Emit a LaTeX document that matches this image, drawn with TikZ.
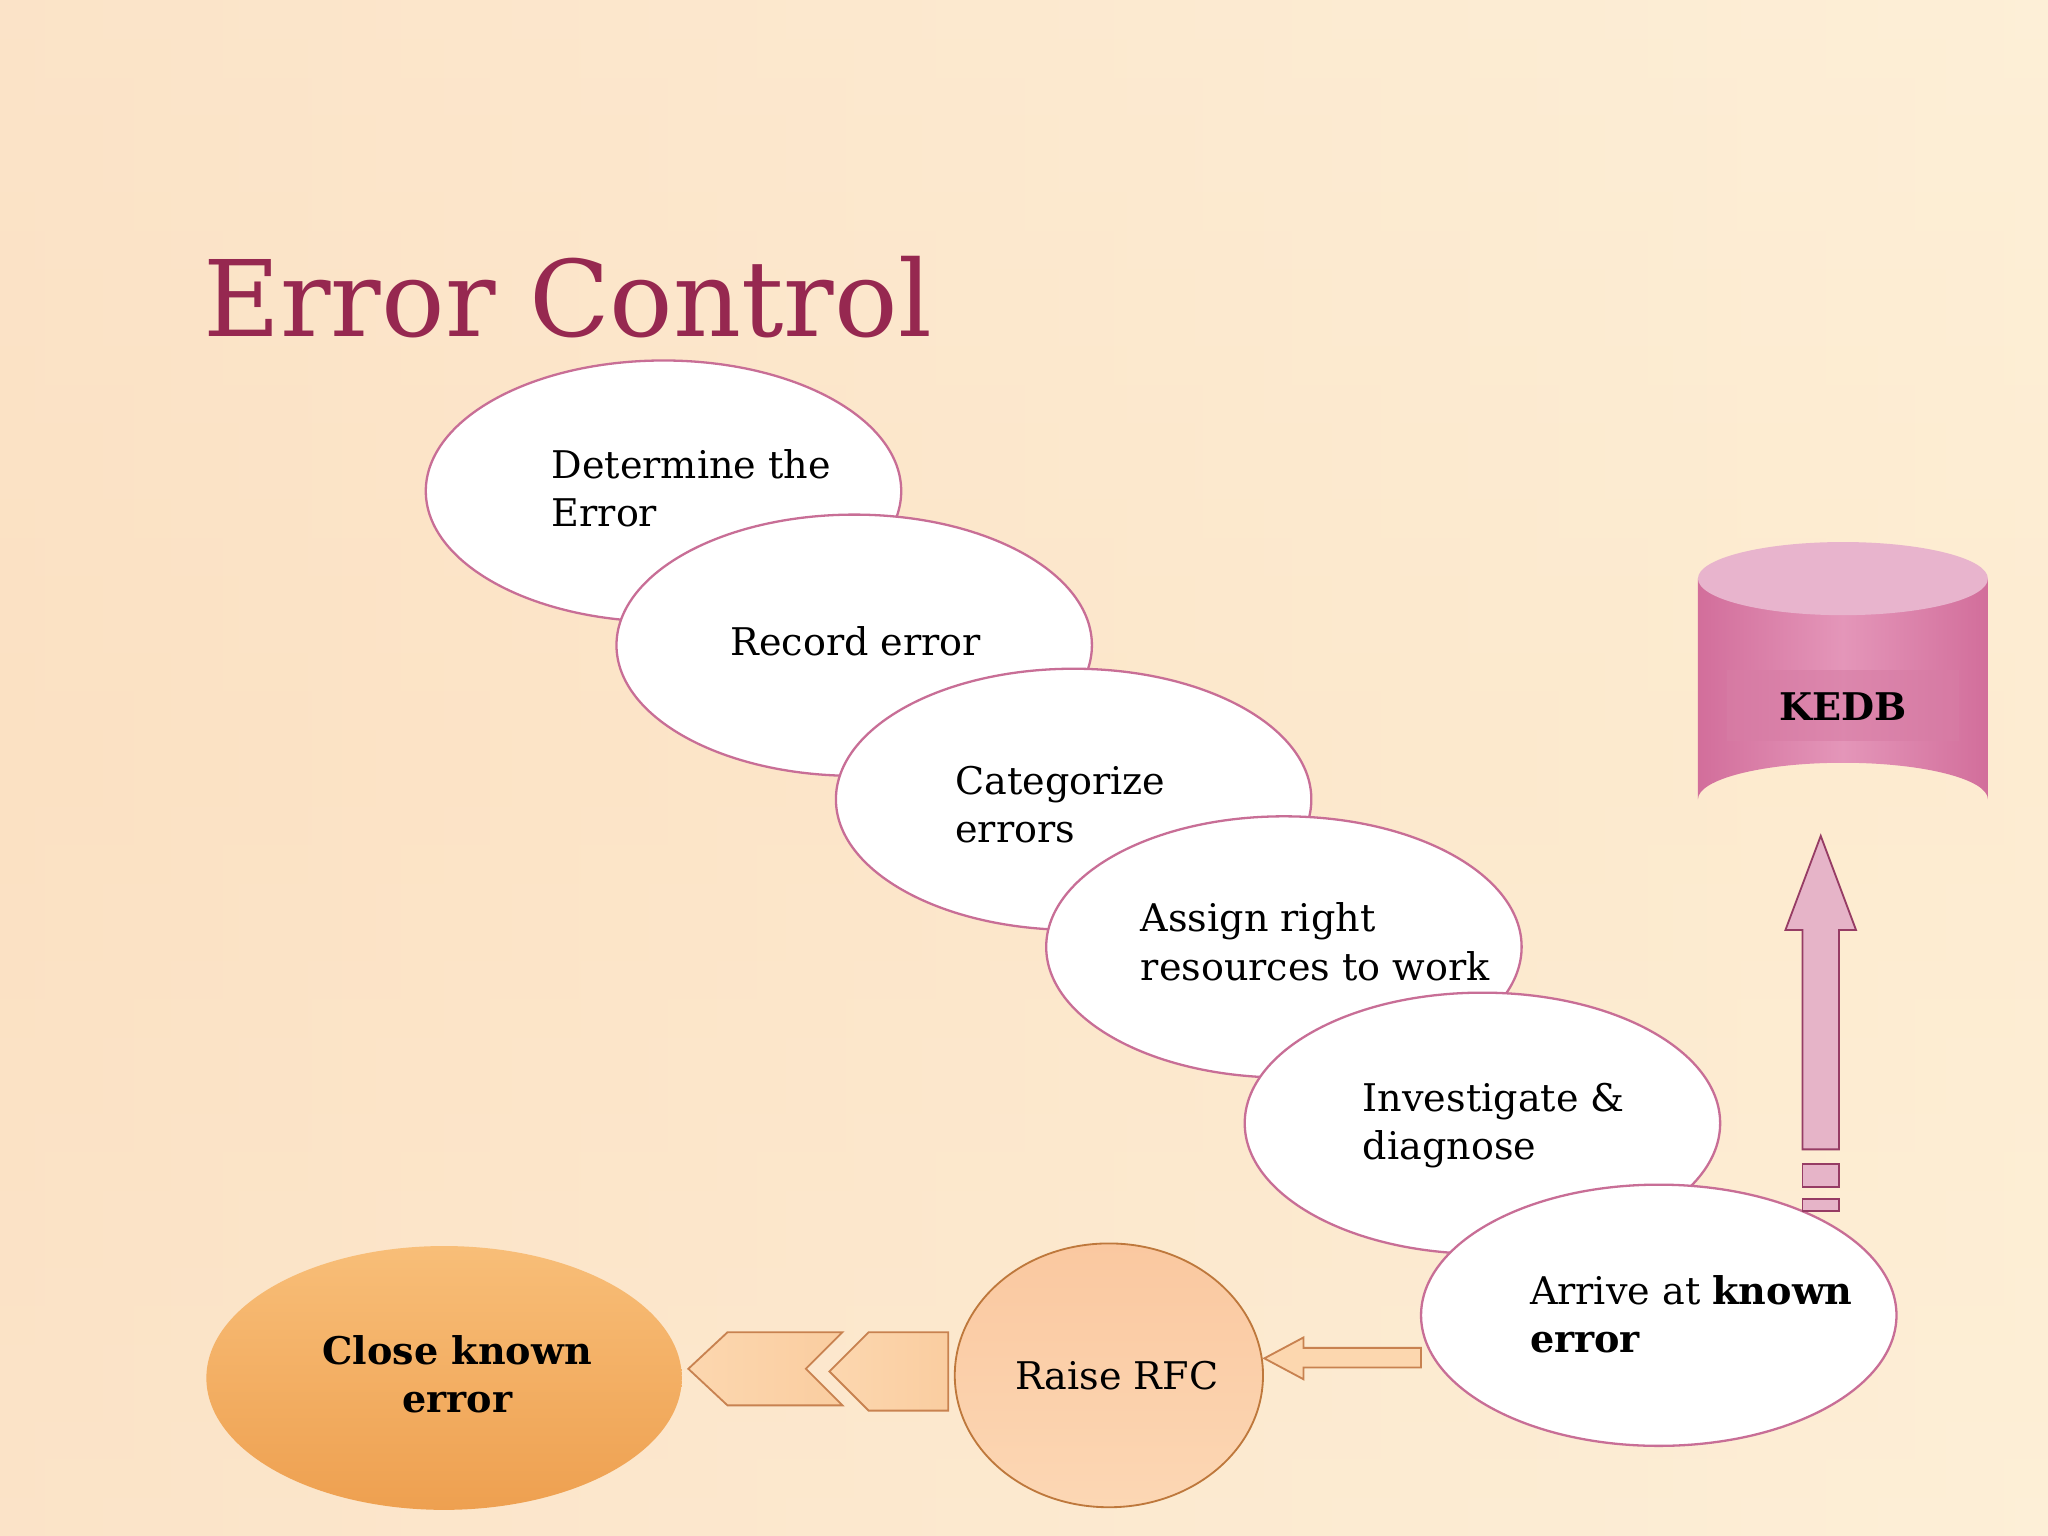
\documentclass[tikz,border=0pt]{standalone}
\usepackage{fontspec}
\setmainfont{DejaVu Serif}
\begin{document}
\begin{tikzpicture}[x=0.01cm,y=-0.01cm,
  stepell/.style={draw=pinkline,fill=white,line width=0.5pt},
  txt/.style={align=left,anchor=west,font=\fontsize{8.3pt}{10.5pt}\selectfont,text=black}]
\definecolor{pinkline}{RGB}{200,110,150}
\definecolor{titlec}{RGB}{150,40,80}
\definecolor{cyltop}{RGB}{232,180,205}
\definecolor{cylband}{RGB}{215,125,165}
\useasboundingbox (0,0) rectangle (1568,1176);
\shade[left color={rgb,255:red,250;green,215;blue,185},right color={rgb,255:red,253;green,238;blue,215}] (0,0) rectangle (1568,1176);
\shade[top color={rgb,255:red,253;green,240;blue,215},bottom color={rgb,255:red,253;green,240;blue,215},middle color={rgb,255:red,253;green,235;blue,205},opacity=0.5] (0,0) rectangle (1568,1176);
\node[anchor=base west,inner sep=0,text=titlec,font=\fontsize{23pt}{26pt}\selectfont] (title) at (155,258) {Error Control};
% ellipses
\draw[stepell] (508,376) ellipse [x radius=182,y radius=100];
\node[txt] (t1) at (410,374) {Determine the\\Error};
\draw[stepell] (654,494) ellipse [x radius=182,y radius=100];
\node[txt] (t2) at (547,491) {Record error};
\draw[stepell] (822,612) ellipse [x radius=182,y radius=100];
\node[txt] (t3) at (719,616) {Categorize\\errors};
\draw[stepell] (983,725) ellipse [x radius=182,y radius=100];
\node[txt] (t4) at (861,721) {Assign right\\resources to work};
\draw[stepell] (1135,860) ellipse [x radius=182,y radius=100];
\node[txt] (t5) at (1031,862) {Investigate \&\\diagnose};
\draw[stepell] (1270,1007) ellipse [x radius=182,y radius=100];
\node[txt] (t6) at (1159,1006) {Arrive at \textbf{known}\\\textbf{error}};
% Raise RFC
\shade[draw={rgb,255:red,190;green,120;blue,60},top color={rgb,255:red,250;green,200;blue,160},bottom color={rgb,255:red,252;green,215;blue,180}] (849,1053) ellipse [x radius=118,y radius=101];
\node[font=\fontsize{8.3pt}{10.5pt}\selectfont] (rfc) at (855,1053) {Raise RFC};
% Close known error
\shade[top color={rgb,255:red,248;green,190;blue,120},bottom color={rgb,255:red,238;green,160;blue,80}] (340,1055) ellipse [x radius=182,y radius=101];
\node[align=center,font=\bfseries\fontsize{8.3pt}{10.5pt}\selectfont] (close) at (350,1052) {Close known\\error};
% chevrons
\shade[draw={rgb,255:red,200;green,130;blue,80},left color={rgb,255:red,252;green,215;blue,175},right color={rgb,255:red,250;green,205;blue,160}] (527,1048)--(557,1020)--(645,1020)--(617,1048)--(645,1076)--(557,1076)--cycle;
\shade[draw={rgb,255:red,200;green,130;blue,80},left color={rgb,255:red,252;green,215;blue,175},right color={rgb,255:red,250;green,205;blue,160}] (635,1050)--(665,1020)--(726,1020)--(726,1080)--(665,1080)--cycle;
% left arrow
\filldraw[draw={rgb,255:red,200;green,130;blue,80},fill={rgb,255:red,252;green,215;blue,175}] (968,1040)--(998,1024)--(998,1032)--(1088,1032)--(1088,1047)--(998,1047)--(998,1056)--cycle;
% KEDB cylinder
\shade[left color={rgb,255:red,210;green,110;blue,155},right color={rgb,255:red,210;green,110;blue,155},middle color={rgb,255:red,228;green,150;blue,185}] (1300,443)--(1300,612) arc[start angle=180,end angle=360,x radius=111,y radius=28]--(1522,443)--cycle;
\fill[cyltop] (1411,443) ellipse [x radius=111,y radius=28];
\fill[cylband,opacity=0.6] (1322,513) rectangle (1500,567);
\node[font=\bfseries\fontsize{8.3pt}{10.5pt}\selectfont] (kedb) at (1411,541) {KEDB};
% up arrow
\filldraw[draw={rgb,255:red,150;green,60;blue,100},fill={rgb,255:red,230;green,180;blue,200}] (1394,640)--(1421,712)--(1408,712)--(1408,880)--(1380,880)--(1380,712)--(1367,712)--cycle;
\filldraw[draw={rgb,255:red,150;green,60;blue,100},fill={rgb,255:red,230;green,180;blue,200}] (1380,891) rectangle (1408,909);
\filldraw[draw={rgb,255:red,150;green,60;blue,100},fill={rgb,255:red,230;green,180;blue,200}] (1380,918) rectangle (1408,927);
\end{tikzpicture}
\end{document}
